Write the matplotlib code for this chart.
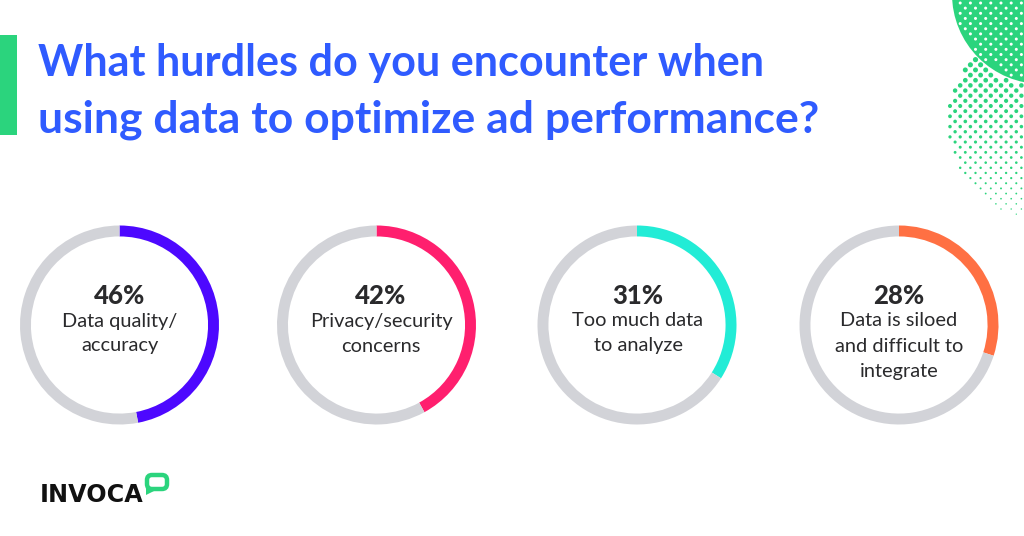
import matplotlib
matplotlib.use("Agg")
import matplotlib.pyplot as plt
from matplotlib.patches import Circle, FancyBboxPatch, Polygon, Rectangle
import numpy as np

title_lines = ["What hurdles do you encounter when",
               "using data to optimize ad performance?"]
values = [46, 42, 31, 28]
# the arcs in the picture run a bit longer than the printed numbers
arc_values = [47, 42, 34, 30]
labels = ["Data quality/\naccuracy", "Privacy/security\nconcerns",
          "Too much data\nto analyze", "Data is siloed\nand difficult to\nintegrate"]
colors = ["#4d08ff", "#ff1f6e", "#22ecd6", "#ff7043"]
centers = [119.5, 376.5, 637, 899]
text_centers = [120, 381, 638, 899]

GREEN = "#2bd47d"
GREY = "#d2d3d8"
W, H = 1024, 536

plt.rcParams["font.family"] = ["Lato", "DejaVu Sans"]
fig = plt.figure(figsize=(W / 100, H / 100), dpi=100)

# background layer in pixel coordinates
bg = fig.add_axes([0, 0, 1, 1])
bg.set_xlim(0, W)
bg.set_ylim(H, 0)
bg.axis("off")

bg.add_patch(Rectangle((0, 35), 17, 100, color=GREEN, lw=0))

# halftone blobs top right
bg.add_patch(Circle((1042, -6), 90, color=GREEN, lw=0, zorder=1))
for row, y in enumerate(np.arange(3, 225, 5.15)):
    offset = 5.1 if row % 2 else 0
    for x in np.arange(950 + offset, 1030, 10.2):
        d_top = np.hypot(x - 1042, y + 6)
        d_low = np.hypot(x - 1045, y - 125) / 97
        if d_top < 87:
            bg.add_patch(Circle((x, y), 1.5, color="white", lw=0, zorder=2))
        elif d_low < 1 and d_top > 92:
            r = 2.6 - 2.1 * max(0, (y - 60)) / 165
            bg.add_patch(Circle((x, y), r, color=GREEN, lw=0, zorder=2))

for line, y, size in zip(title_lines, [63, 120], [31.1, 32]):
    bg.text(38, y, line, color="#2f5bff", fontsize=size, fontweight="bold",
            va="center", ha="left")

# donuts
for arc, value, label, color, cx, tx in zip(arc_values, values, labels, colors,
                                            centers, text_centers):
    ax = fig.add_axes([(cx - 99.5) / W, 1 - (325 + 99.5) / H, 199 / W, 199 / H])
    ax.pie([arc, 100 - arc], colors=[color, GREY], startangle=90,
           counterclock=False, radius=1,
           wedgeprops={"width": 0.11, "linewidth": 0})
    ax.set_xlim(-1, 1)
    ax.set_ylim(-1, 1)

    bg.text(tx, 296, "%d%%" % value, color="#2a2a2c", fontsize=18.5,
            fontweight="black", ha="center", va="center")
    for i, part in enumerate(label.split("\n")):
        bg.text(tx, 321 + i * 25, part, color="#2a2a2c", fontsize=14.4,
                ha="center", va="center")

# logo
bg.text(40, 495, "INVOCA", color="#111111", fontsize=17.2, fontweight="bold",
        family="DejaVu Sans", ha="left", va="center")
bubble = FancyBboxPatch((147, 475), 20, 14, boxstyle="round,pad=0,rounding_size=5",
                        fc="white", ec=GREEN, lw=3.2, zorder=3)
bg.add_patch(bubble)
bg.add_patch(Polygon([[146, 485], [146, 495], [156, 490]], color=GREEN, lw=0, zorder=2))

fig.savefig("out.png", dpi=100, facecolor="white")
